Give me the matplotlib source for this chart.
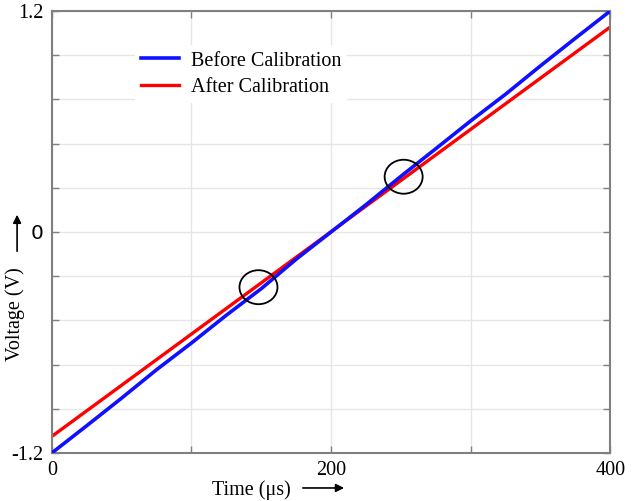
import numpy as np
import matplotlib
matplotlib.use("Agg")
import matplotlib.pyplot as plt
from matplotlib.patches import Ellipse, FancyArrowPatch

plt.rcParams['font.family'] = ['Liberation Serif', 'DejaVu Serif']

# data
t_before = [0, 25, 50, 75, 100, 125, 150, 175, 200, 225, 250, 275, 300, 325, 350, 375, 400]
v_before = [-1.2, -1.052, -0.902, -0.748, -0.603, -0.452, -0.308, -0.148, 0.0,
            0.148, 0.302, 0.452, 0.603, 0.748, 0.902, 1.052, 1.2]
t_after = [0, 400]
v_after = [-1.11, 1.113]
circles = [(148, -0.30), (252, 0.30)]

xticklabels = ['0', '', '200', '', '400']

fig = plt.figure(figsize=(6.33, 5.01), dpi=100)
ax = fig.add_axes([0.082, 0.096, 0.882, 0.882])

ax.plot(t_before, v_before, color='#1010ff', lw=2.6, label='Before Calibration', zorder=3)
ax.plot(t_after, v_after, color='#ff0000', lw=2.4, label='After Calibration', zorder=2)

# circles, about 38 x 34 px
for cx, cy in circles:
    w = 38 / 558 * 400
    h = 34 / 442 * 2.4
    ax.add_patch(Ellipse((cx, cy), w, h, fill=False, ec='black', lw=1.3, zorder=4))

ax.set_xlim(0, 400)
ax.set_ylim(-1.2, 1.2)
ax.set_xticks(np.arange(0, 401, 100))
ax.set_yticks(np.linspace(-1.2, 1.2, 11))
ax.set_xticklabels(xticklabels)
ylabs = ['' for _ in range(11)]
ylabs[0], ylabs[5], ylabs[10] = '-1.2', '0', '1.2'
ax.set_yticklabels(ylabs)
ax.get_yticklabels()[5].set_fontfamily('DejaVu Sans')
ax.get_yticklabels()[5].set_fontsize(11)

ax.grid(True, color='#e6e6e6', lw=1)
ax.tick_params(direction='in', length=5, color='#808080', top=True, right=True,
               labelsize=14.5, width=1)
ax.tick_params(axis='x', pad=6)
ax.tick_params(axis='y', pad=6)
for s in ax.spines.values():
    s.set_color('#808080')
    s.set_linewidth(1.5)

leg = ax.legend(loc='upper left', bbox_to_anchor=(0.13, 0.945), fontsize=14.5,
                frameon=True, fancybox=False, handlelength=1.9, handletextpad=0.6,
                labelspacing=0.35, borderpad=0.3)
leg.get_frame().set_edgecolor('none')
leg.get_frame().set_facecolor('white')
leg.get_frame().set_alpha(1)

fig.text(0.024, 0.373, 'Voltage (V)', rotation=90, ha='center', va='center', fontsize=14.5)
fig.text(0.397, 0.022, 'Time (μs)', ha='center', va='center', fontsize=14.5)
fig.add_artist(FancyArrowPatch((0.027, 0.493), (0.027, 0.577),
               transform=fig.transFigure, arrowstyle='-|>', mutation_scale=12,
               color='black', lw=1.2))
fig.add_artist(FancyArrowPatch((0.474, 0.026), (0.548, 0.026),
               transform=fig.transFigure, arrowstyle='-|>', mutation_scale=12,
               color='black', lw=1.2))

fig.savefig('out.png', dpi=100)
